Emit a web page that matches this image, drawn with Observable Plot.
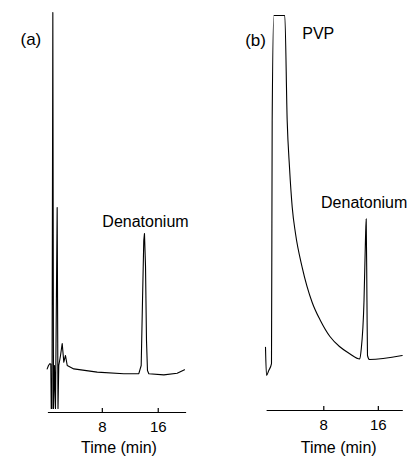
<!DOCTYPE html>
<html><head><meta charset="utf-8">
<script src="https://cdn.jsdelivr.net/npm/d3@7"></script>
<script src="https://cdn.jsdelivr.net/npm/@observablehq/plot@0.6"></script>
<style>
body{margin:0;background:#fff;}
#wrap{position:relative;width:413px;height:460px;overflow:hidden;background:#fff;}
#wrap svg{position:absolute;top:0;}
</style></head><body><div id="wrap"></div>
<script>
// Panel (a): detector signal (arbitrary units) vs time (min)
const timeA = [0.11, 0.3, 0.49, 0.63, 0.69, 0.8, 0.92, 1.02, 1.16, 1.3, 1.54, 1.66, 1.77, 2.02, 2.26, 2.49, 2.73, 2.98, 3.92, 7.27, 11.07, 13.22, 13.56, 13.75, 13.93, 14.03, 14.18, 14.32, 14.46, 14.65, 16.8, 18.71, 19.76];
const signalA = [10.9, 11.75, 12.2, 12.1, 1, 1, 100, 1, 11.75, 1, 51.25, 1, 11.75, 14.25, 17.25, 12.6, 14.25, 11.75, 10.9, 10.1, 9.7, 9.7, 11.75, 28, 43, 44.75, 36.5, 18, 10.5, 9.7, 9.4, 9.8, 10.7];
// Panel (b): detector signal (arbitrary units) vs time (min); PVP peak off scale
const timeB = [-0.55, -0.40, -0.07, 0.33, 0.43, 0.67, 2.28, 2.63, 2.97, 3.37, 3.85, 4.83, 6.3, 7.5, 8.9, 10.3, 11.8, 13.28, 13.47, 13.9, 14.11, 14.22, 14.33, 14.41, 14.7, 19.5];
const signalB = [15.8, 8.75, 10, 11.7, 72.5, 98.75, 98.75, 72.5, 60.8, 50.8, 44.25, 35.8, 27, 22.5, 18.5, 16, 14.2, 12.9, 15, 27.5, 42.5, 47.9, 27.5, 13.75, 12.75, 13.75];
const xTicks = [8, 16];
const axisSpanA = [0.3, 19.9];
const axisSpanB = [-0.3, 19.5];
const panelNames = ["(a)", "(b)"];
const peakNamesA = ["Denatonium"];
const peakTimesA = [14.03];
const peakSignalsA = [44.75];
const peakNamesB = ["PVP", "Denatonium"];
const peakTimesB = [1.47, 14.22];
const peakSignalsB = [98.75, 47.9];
const xLabel = "Time (min)";

const font = "'Liberation Sans', Arial, Helvetica, sans-serif";
const dataA = timeA.map((t, i) => ({t, v: signalA[i]}));
const dataB = timeB.map((t, i) => ({t, v: signalB[i]}));
const peaksA = peakNamesA.map((name, i) => ({name, t: peakTimesA[i], v: peakSignalsA[i]}));
const peaksB = peakNamesB.map((name, i) => ({name, t: peakTimesB[i], v: peakSignalsB[i]}));

const plotA = Plot.plot({
  width: 206, height: 460,
  marginLeft: 48, marginRight: 21, marginTop: 12, marginBottom: 48,
  x: {domain: axisSpanA},
  y: {domain: [0, 100], axis: null},
  style: {fontFamily: font, fontSize: "15px", color: "#000", background: "#fff", overflow: "visible"},
  marks: [
    Plot.frame({anchor: "bottom", stroke: "#000", strokeWidth: 1.2}),
    Plot.ruleX(xTicks, {x: d => d, y1: 0, y2: 1, stroke: "#000", strokeWidth: 1.2}),
    Plot.axisX(xTicks, {tickSize: 0, tickPadding: 9, fontSize: 15, label: null}),
    Plot.line(dataA, {x: "t", y: "v", stroke: "#000", strokeWidth: 1.1}),
    Plot.text(peaksA, {x: "t", y: "v", text: "name", dy: -12, dx: 1, fontSize: 16, fill: "#000"}),
    Plot.text([panelNames[0]], {frameAnchor: "top-left", dx: -28, dy: 20, fontSize: 17, fill: "#000"}),
    Plot.text([xLabel], {frameAnchor: "bottom", dx: 2, dy: 40, fontSize: 16, fill: "#000"})
  ]
});

const plotB = Plot.plot({
  width: 207, height: 460,
  marginLeft: 60.7, marginRight: 11.3, marginTop: 10, marginBottom: 50,
  x: {domain: axisSpanB},
  y: {domain: [0, 100], axis: null},
  style: {fontFamily: font, fontSize: "15px", color: "#000", background: "transparent", overflow: "visible"},
  marks: [
    Plot.frame({anchor: "bottom", stroke: "#000", strokeWidth: 1.2}),
    Plot.ruleX(xTicks, {x: d => d, y1: 0, y2: 1, stroke: "#000", strokeWidth: 1.2}),
    Plot.axisX(xTicks, {tickSize: 0, tickPadding: 9, fontSize: 15, label: null}),
    Plot.line(dataB, {x: "t", y: "v", stroke: "#000", strokeWidth: 1.1, curve: "monotone-x"}),
    Plot.text(peaksB.filter(d => d.name === "PVP"), {x: "t", y: "v", text: "name", dx: 39, dy: 18, fontSize: 16, fill: "#000"}),
    Plot.text(peaksB.filter(d => d.name !== "PVP"), {x: "t", y: "v", text: "name", dx: -2, dy: -16, fontSize: 16, fill: "#000"}),
    Plot.text([panelNames[1]], {frameAnchor: "top-left", dx: -22, dy: 23, fontSize: 17, fill: "#000"}),
    Plot.text([xLabel], {frameAnchor: "bottom", dx: 4, dy: 42, fontSize: 16, fill: "#000"})
  ]
});

const wrap = document.getElementById("wrap");
plotA.style.left = "0px";
plotB.style.left = "206px";
wrap.appendChild(plotA);
wrap.appendChild(plotB);
</script></body></html>
